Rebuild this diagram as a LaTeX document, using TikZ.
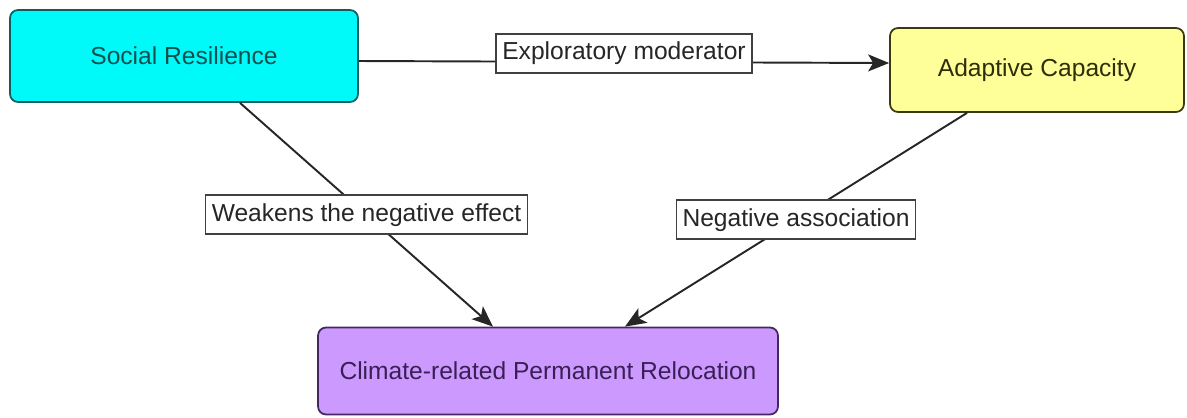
\documentclass[tikz,border=0pt]{standalone}
\usepackage{fontspec}
\setmainfont{Liberation Sans}
\usetikzlibrary{arrows.meta}
\definecolor{socfill}{HTML}{00FAFA}
\definecolor{socdraw}{HTML}{0F5F5F}
\definecolor{soctext}{HTML}{104F4F}
\definecolor{adaptfill}{HTML}{FFFF99}
\definecolor{adaptdraw}{HTML}{3A3A10}
\definecolor{adapttext}{HTML}{2E2E08}
\definecolor{relocfill}{HTML}{CC99FF}
\definecolor{relocdraw}{HTML}{45285F}
\definecolor{reloctext}{HTML}{3A1F55}

\begin{document}
\begin{tikzpicture}[x=0.02cm, y=-0.02cm,
    box/.style={rectangle, rounded corners=0.16cm, line width=1pt,
      font=\fontsize{14}{16}\selectfont, align=center},
    edgelabel/.style={rectangle, draw=black!75, fill=white, line width=0.9pt,
      inner xsep=3.5pt, inner ysep=0pt, minimum height=0.78cm,
      font=\fontsize{14}{16}\selectfont, text=black!85},
    link/.style={-{Stealth[length=0.42cm, width=0.34cm, inset=0.1cm]},
      line width=1.1pt, black!85}]
  \useasboundingbox (0,0) rectangle (1187,417);
  % factors
  \node[box, fill=socfill, draw=socdraw, text=soctext,
    minimum width=6.96cm, minimum height=1.84cm] (soc) at (184,56) {Social Resilience};
  \node[box, fill=adaptfill, draw=adaptdraw, text=adapttext,
    minimum width=5.88cm, minimum height=1.68cm] (adapt) at (1037,70) {Adaptive Capacity};
  \node[box, fill=relocfill, draw=relocdraw, text=reloctext,
    minimum width=9.2cm, minimum height=1.74cm] (reloc) at (548,371) {Climate-related Permanent Relocation};
  % relations
  \draw[link] ([yshift=-0.1cm]soc.east) -- ([yshift=0.14cm]adapt.west)
    node[edgelabel, pos=0.5, yshift=0.17cm] (lblmod) {Exploratory moderator};
  \draw[link] ([xshift=1.12cm]soc.south) -- ([xshift=-1.1cm]reloc.north)
    node[edgelabel, pos=0.5] (lblweak) {Weakens the negative effect};
  \draw[link] ([xshift=-1.4cm]adapt.south) -- ([xshift=1.54cm]reloc.north)
    node[edgelabel, pos=0.5] (lblneg) {Negative association};
\end{tikzpicture}
\end{document}
